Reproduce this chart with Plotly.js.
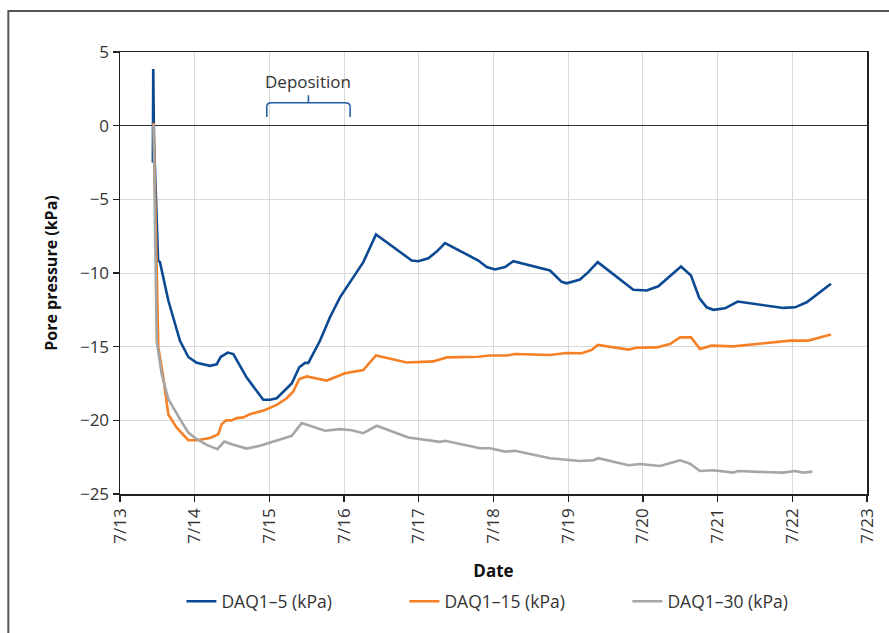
<!DOCTYPE html>
<html>
<head>
<meta charset="utf-8">
<script src="https://cdn.plot.ly/plotly-3.0.1.min.js"></script>
<style>
  html, body { margin: 0; padding: 0; background: #fff; }
  #chart { width: 889px; height: 633px; }
</style>
</head>
<body>
<div id="chart"></div>
<script>
// Day of July (decimal) and pore pressure (kPa)
const daq5Day = [13.44, 13.445, 13.455, 13.51, 13.535, 13.647, 13.803, 13.914, 14.027, 14.205, 14.294, 14.348, 14.442, 14.517, 14.696, 14.918, 15.008, 15.098, 15.299, 15.400, 15.477, 15.521, 15.677, 15.811, 15.945, 16.257, 16.427, 16.659, 16.905, 16.993, 17.127, 17.24, 17.351, 17.797, 17.909, 18.02, 18.154, 18.265, 18.756, 18.913, 18.98, 19.158, 19.269, 19.395, 19.872, 20.051, 20.206, 20.51, 20.644, 20.755, 20.854, 20.942, 21.099, 21.269, 21.88, 22.036, 22.193, 22.518];
const daq5Val = [-2.5, 3.85, -1.0, -9.15, -9.26, -11.87, -14.6, -15.7, -16.1, -16.3, -16.2, -15.7, -15.4, -15.5, -17.1, -18.6, -18.6, -18.5, -17.5, -16.4, -16.1, -16.1, -14.6, -13.0, -11.65, -9.26, -7.38, -8.24, -9.15, -9.2, -9.0, -8.55, -7.97, -9.15, -9.6, -9.76, -9.6, -9.2, -9.83, -10.6, -10.7, -10.44, -9.94, -9.26, -11.14, -11.19, -10.9, -9.56, -10.17, -11.7, -12.33, -12.5, -12.4, -11.94, -12.37, -12.33, -11.99, -10.73];

const daq15Day = [13.45, 13.513, 13.58, 13.647, 13.759, 13.914, 14.027, 14.205, 14.272, 14.316, 14.361, 14.419, 14.495, 14.562, 14.651, 14.74, 14.941, 15.098, 15.232, 15.32, 15.4, 15.499, 15.767, 16.012, 16.257, 16.427, 16.838, 17.194, 17.373, 17.797, 17.953, 18.177, 18.288, 18.756, 18.98, 19.181, 19.315, 19.395, 19.805, 19.917, 20.185, 20.363, 20.497, 20.644, 20.764, 20.921, 21.21, 21.969, 22.214, 22.518];
const daq15Val = [0.2, -15.05, -17.1, -19.6, -20.5, -21.35, -21.35, -21.2, -21.05, -20.94, -20.26, -20.0, -20.0, -19.85, -19.8, -19.58, -19.3, -18.95, -18.5, -18.04, -17.2, -17.02, -17.3, -16.8, -16.59, -15.6, -16.07, -16.0, -15.73, -15.68, -15.6, -15.6, -15.5, -15.57, -15.43, -15.45, -15.22, -14.88, -15.2, -15.07, -15.05, -14.82, -14.37, -14.37, -15.16, -14.93, -14.98, -14.59, -14.59, -14.18];

const daq30Day = [13.45, 13.491, 13.558, 13.647, 13.803, 13.914, 14.027, 14.161, 14.303, 14.396, 14.495, 14.696, 14.874, 15.098, 15.299, 15.432, 15.543, 15.744, 15.945, 16.102, 16.257, 16.436, 16.859, 17.284, 17.351, 17.819, 17.953, 18.154, 18.288, 18.756, 19.158, 19.336, 19.403, 19.805, 19.961, 20.229, 20.497, 20.631, 20.764, 20.942, 21.21, 21.269, 21.56, 21.88, 22.036, 22.147, 22.268];
const daq30Val = [0.1, -14.6, -16.86, -18.56, -19.92, -20.83, -21.28, -21.67, -21.96, -21.44, -21.62, -21.92, -21.73, -21.39, -21.05, -20.19, -20.37, -20.71, -20.6, -20.67, -20.87, -20.37, -21.17, -21.46, -21.39, -21.89, -21.89, -22.12, -22.07, -22.57, -22.76, -22.71, -22.57, -23.05, -22.96, -23.1, -22.71, -22.94, -23.44, -23.39, -23.55, -23.44, -23.5, -23.55, -23.44, -23.55, -23.48];

const dayTicks = [13, 14, 15, 16, 17, 18, 19, 20, 21, 22, 23];
const dayLabels = ['7/13', '7/14', '7/15', '7/16', '7/17', '7/18', '7/19', '7/20', '7/21', '7/22', '7/23'];
const seriesNames = ['DAQ1\u20135 (kPa)', 'DAQ1\u201315 (kPa)', 'DAQ1\u201330 (kPa)'];

// Deposition period (days of July)
const depositionStart = 14.965;
const depositionEnd = 16.08;

const FONT = '"Open Sans", "Noto Sans", sans-serif';
const colors = ['#0b4a93', '#f58026', '#a6a6a6'];

const data = [
  {x: daq5Day, y: daq5Val, name: seriesNames[0]},
  {x: daq15Day, y: daq15Val, name: seriesNames[1]},
  {x: daq30Day, y: daq30Val, name: seriesNames[2]}
].map((t, i) => Object.assign(t, {
  type: 'scatter', mode: 'lines',
  line: {color: colors[i], width: 2.6},
  hoverinfo: 'skip'
}));

const mid = (depositionStart + depositionEnd) / 2;
const r = 0.07, yb = 1.55, yEnd = 0.58, yTop = 2.07, ry = 0.25;
const bracketPath =
  `M ${depositionStart},${yEnd} L ${depositionStart},${yb - ry} Q ${depositionStart},${yb} ${depositionStart + r},${yb} ` +
  `L ${depositionEnd - r},${yb} Q ${depositionEnd},${yb} ${depositionEnd},${yb - ry} L ${depositionEnd},${yEnd} ` +
  `M ${mid},${yb} L ${mid},${yTop}`;

const layout = {
  width: 889, height: 633,
  margin: {l: 120, r: 22, t: 52, b: 139, autoexpand: false},
  paper_bgcolor: '#fff', plot_bgcolor: '#fff',
  font: {family: FONT, color: '#333', size: 16},
  showlegend: true,
  legend: {
    orientation: 'h', x: 0.53, xanchor: 'center', y: -0.243, yanchor: 'middle',
    font: {family: FONT, size: 17.5, color: '#333'},
    entrywidth: 178, entrywidthmode: 'pixels'
  },
  xaxis: {
    range: [13, 23], tickvals: dayTicks, ticktext: dayLabels, tickangle: -90,
    showgrid: true, gridcolor: '#d9d9d9', gridwidth: 1,
    zeroline: false, showline: true, linecolor: '#222', linewidth: 1.5, mirror: true,
    ticks: 'outside', ticklen: 6, tickcolor: '#222', tickwidth: 1.3,
    tickfont: {family: FONT, size: 17, color: '#333'},
    title: {text: '<b>Date</b>', font: {family: FONT, size: 17, color: '#111'}, standoff: 22}
  },
  yaxis: {
    range: [-25, 5], dtick: 5, tick0: 0,
    showgrid: true, gridcolor: '#d9d9d9', gridwidth: 1,
    zeroline: true, zerolinecolor: '#333', zerolinewidth: 1.5,
    showline: true, linecolor: '#222', linewidth: 1.5, mirror: true,
    ticks: 'outside', ticklen: 6, tickcolor: '#222', tickwidth: 1.3,
    tickfont: {family: FONT, size: 17, color: '#333'},
    title: {text: '<b>Pore pressure (kPa)</b>', font: {family: FONT, size: 16, color: '#111'}, standoff: 18}
  },
  shapes: [
    {type: 'rect', xref: 'paper', yref: 'paper', x0: -0.1495, x1: 1.3, y0: -0.6, y1: 1.0928,
     line: {color: '#555', width: 2}, fillcolor: 'rgba(0,0,0,0)', layer: 'below'},
    {type: 'path', xref: 'x', yref: 'y', path: bracketPath, line: {color: '#1f5aa6', width: 1.5}}
  ],
  annotations: [
    {x: mid, y: 3.0, xref: 'x', yref: 'y', text: 'Deposition', showarrow: false,
     font: {family: FONT, size: 17, color: '#333'}, xanchor: 'center', yanchor: 'middle'}
  ]
};

Plotly.newPlot('chart', data, layout, {displayModeBar: false, staticPlot: true});
</script>
</body>
</html>
